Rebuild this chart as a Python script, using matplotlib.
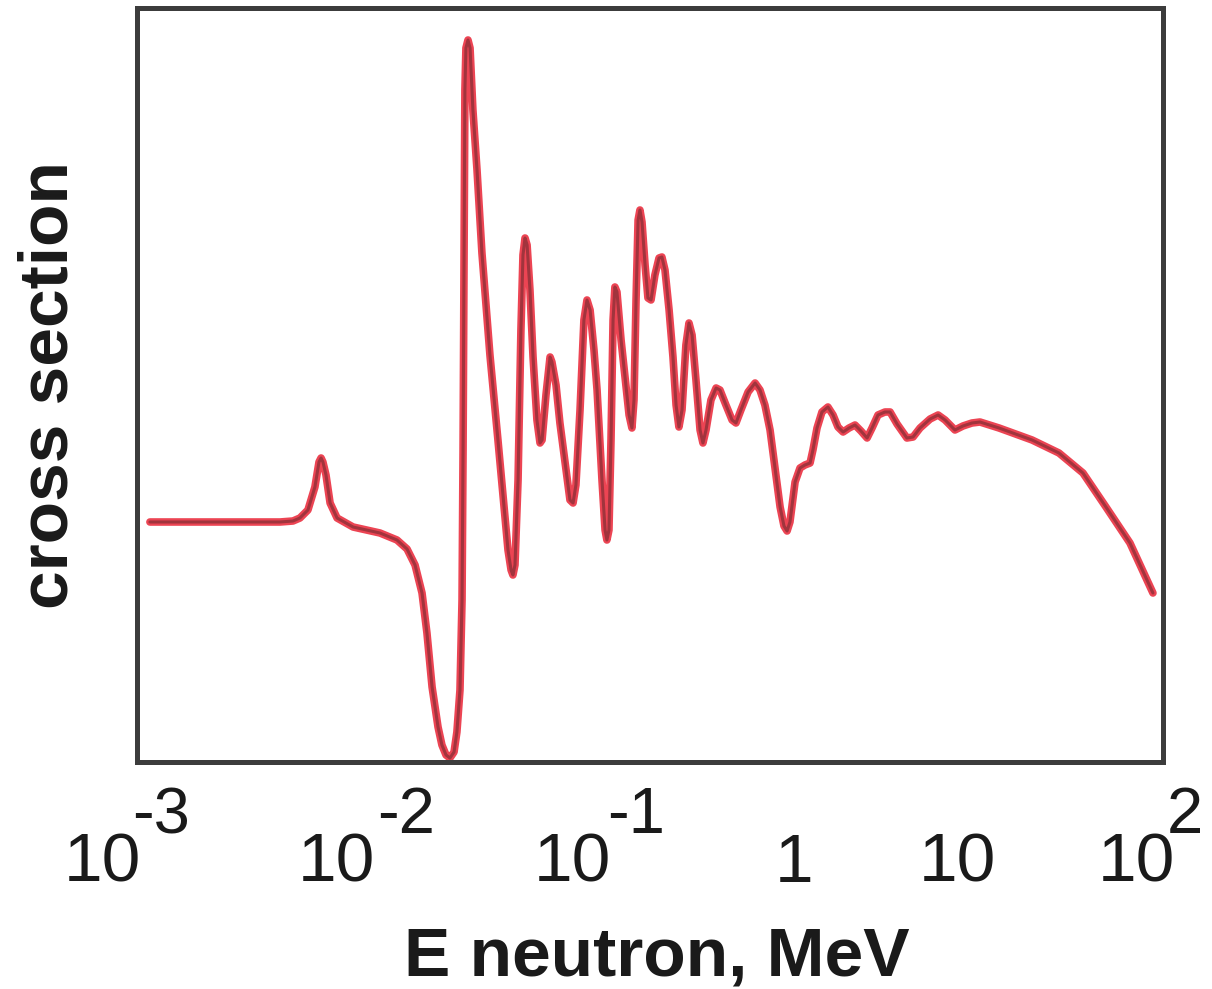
import matplotlib
matplotlib.use("Agg")
import matplotlib.pyplot as plt
import numpy as np

# curve: log10(E / MeV) and cross section (arbitrary units)
log_e = [-2.937, -2.596, -2.303, -2.240, -2.206, -2.167, -2.133, -2.113, -2.103, -2.094,
         -2.079, -2.059, -2.025, -1.947, -1.816, -1.733, -1.684, -1.645, -1.611, -1.587,
         -1.562, -1.533, -1.514, -1.494, -1.475, -1.455, -1.441, -1.426, -1.416, -1.411,
         -1.406, -1.402, -1.397, -1.387, -1.377, -1.363, -1.343, -1.319, -1.280, -1.241,
         -1.212, -1.192, -1.177, -1.168, -1.158, -1.143, -1.129, -1.119, -1.109, -1.099,
         -1.085, -1.070, -1.051, -1.036, -1.026, -1.007, -0.987, -0.978, -0.958, -0.939,
         -0.909, -0.890, -0.875, -0.861, -0.841, -0.822, -0.807, -0.792, -0.773, -0.758,
         -0.734, -0.719, -0.710, -0.700, -0.690, -0.680, -0.671, -0.661, -0.641, -0.622,
         -0.602, -0.588, -0.578, -0.568, -0.558, -0.549, -0.539, -0.524, -0.510, -0.495,
         -0.476, -0.456, -0.442, -0.427, -0.407, -0.388, -0.373, -0.359, -0.344, -0.325,
         -0.310, -0.295, -0.276, -0.256, -0.242, -0.227, -0.203, -0.178, -0.159, -0.130,
         -0.100, -0.081, -0.057, -0.022, 0.012, 0.036, 0.060, 0.085, 0.109, 0.134,
         0.153, 0.168, 0.182, 0.207, 0.231, 0.255, 0.280, 0.294, 0.314, 0.338,
         0.367, 0.392, 0.416, 0.441, 0.470, 0.499, 0.528, 0.558, 0.582, 0.611,
         0.645, 0.670, 0.704, 0.752, 0.782, 0.816, 0.865, 0.904, 0.938, 0.986,
         1.025, 1.069, 1.108, 1.201, 1.362, 1.493, 1.610, 1.722, 1.839, 1.951]
sigma = [240, 240, 240, 241, 244, 252, 275, 300, 304, 300,
         287, 259, 244, 235, 229, 222, 213, 197, 169, 129,
         75, 35, 17, 7, 4, 10, 30, 72, 162, 312,
         512, 672, 714, 722, 714, 652, 592, 509, 407, 322,
         257, 212, 192, 187, 197, 282, 432, 507, 524, 517,
         472, 405, 342, 319, 322, 367, 405, 400, 377, 339,
         292, 262, 259, 277, 352, 442, 462, 452, 412, 372,
         282, 232, 222, 232, 322, 442, 475, 470, 422, 385,
         347, 334, 362, 462, 542, 552, 540, 497, 464, 462,
         487, 504, 505, 492, 452, 405, 357, 335, 352, 417,
         439, 427, 382, 332, 319, 332, 362, 374, 372, 357,
         342, 339, 352, 370, 379, 372, 357, 332, 294, 255,
         236, 231, 240, 280, 294, 297, 299, 312, 334, 350,
         355, 347, 335, 330, 334, 337, 331, 324, 334, 347,
         350, 350, 338, 324, 325, 334, 343, 347, 342, 332,
         336, 339, 340, 334, 322, 309, 289, 255, 219, 169]

tick_vals = [1e-3, 1e-2, 1e-1, 1, 10, 100]
tick_base = ["10", "10", "10", "1", "10", "10"]
tick_exp = ["-3", "-2", "-1", "", "", "2"]
# small offsets (pixels) so the labels sit where the original put them
base_dx = [-35, -6, 25, 41, 0, -27]
exp_dx = [-5, 35, 60, 0, 0, 4]

plt.rcParams["font.family"] = ["Liberation Sans", "DejaVu Sans"]

energy = np.power(10.0, log_e)

fig = plt.figure(figsize=(12.12, 9.89), dpi=100)
ax = fig.add_axes([137 / 1212, 1 - 762 / 989, (1163 - 137) / 1212, (762 - 8) / 989])

ax.plot(energy, sigma, color="#ec4453", lw=5.5, solid_capstyle="round", solid_joinstyle="round")
ax.plot(energy, sigma, color="#a1343d", lw=2.2, solid_capstyle="round", solid_joinstyle="round")

ax.set_xscale("log")
ax.set_xlim(1e-3, 1e2)
ax.set_ylim(0, 754)
ax.set_yticks([])
ax.set_xticks(tick_vals)
ax.set_xticklabels([])
ax.xaxis.set_minor_locator(matplotlib.ticker.NullLocator())
ax.tick_params(axis="x", length=0)

trans = ax.get_xaxis_transform()
for v, b, e, bdx, edx in zip(tick_vals, tick_base, tick_exp, base_dx, exp_dx):
    ax.annotate(b, xy=(v, 0), xycoords=trans, xytext=(bdx, -120), textcoords="offset pixels",
                ha="center", va="baseline", fontsize=50, color="#1a1a1a", annotation_clip=False)
    if e:
        ax.annotate(e, xy=(v, 0), xycoords=trans, xytext=(edx, -71), textcoords="offset pixels",
                    ha="left", va="baseline", fontsize=47, color="#1a1a1a", annotation_clip=False)

for sp in ax.spines.values():
    sp.set_color("#3c3c3c")
    sp.set_linewidth(3.6)

ax.set_xlabel("E neutron, MeV", fontsize=50, fontweight="bold", color="#1a1a1a", va="baseline")
ax.xaxis.set_label_coords(0.507, -0.2825)
ax.set_ylabel("cross section", fontsize=50, fontweight="bold", color="#1a1a1a", labelpad=40)

fig.savefig("out.png", dpi=100)
